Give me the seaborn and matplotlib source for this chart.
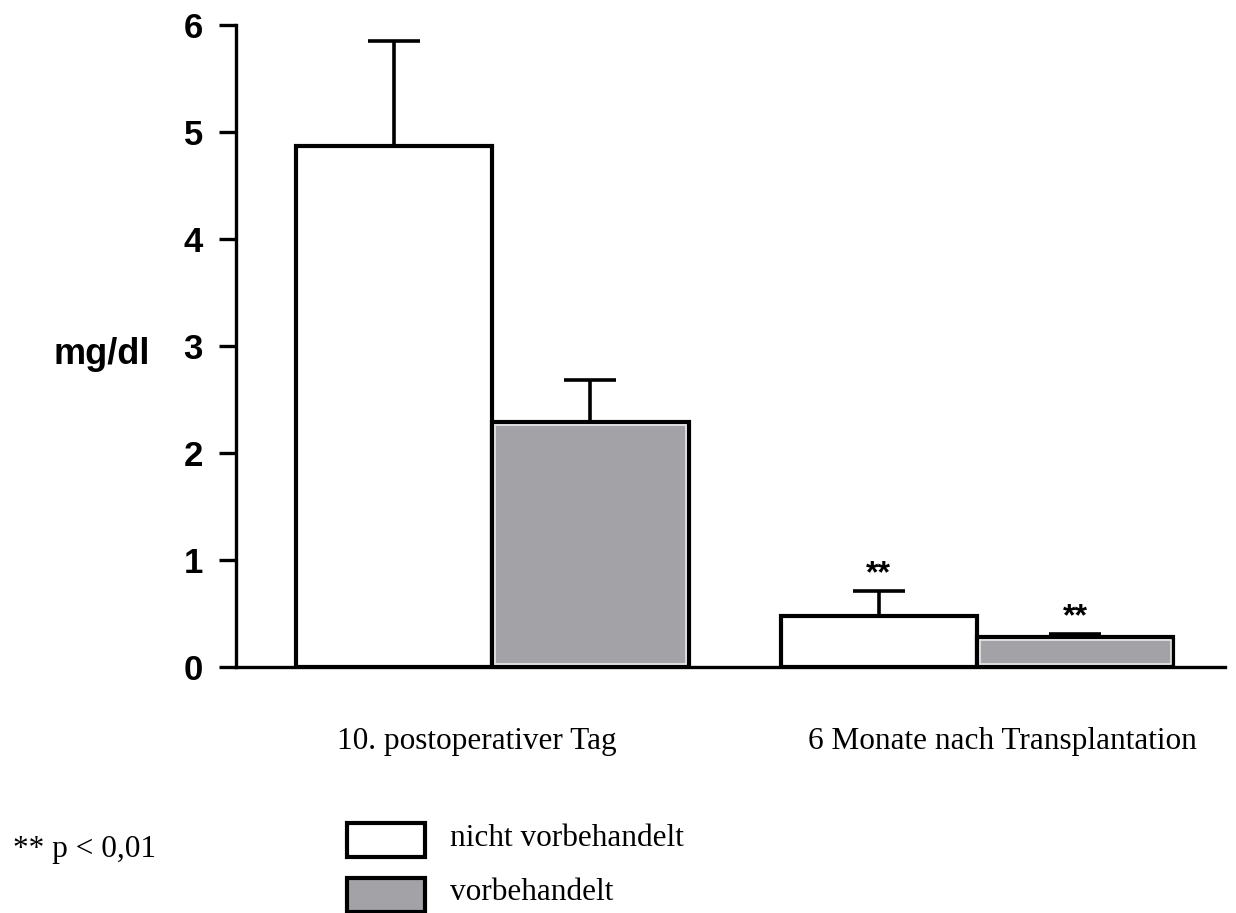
import matplotlib
matplotlib.use("Agg")
import matplotlib.pyplot as plt
import matplotlib.patches as mpatches
import seaborn as sns
import pandas as pd

categories = ["10. postoperativer Tag", "6 Monate nach Transplantation"]
groups = ["nicht vorbehandelt", "vorbehandelt"]
means_nicht = [4.87, 0.48]
means_vor = [2.29, 0.28]
sem_nicht = [0.98, 0.23]
sem_vor = [0.39, 0.03]
stars = ["", "**"]
y_ticks = [0, 1, 2, 3, 4, 5, 6]

df = pd.DataFrame({
    "cat": categories * 2,
    "group": [groups[0]] * 2 + [groups[1]] * 2,
    "value": means_nicht + means_vor,
    "err": sem_nicht + sem_vor,
})

sns.set_theme(style="white")
plt.rcParams["font.family"] = ["Liberation Sans", "DejaVu Sans"]
plt.rcParams["text.color"] = "black"
plt.rcParams["axes.labelcolor"] = "black"
plt.rcParams["ytick.color"] = "black"

fig = plt.figure(figsize=(12.36, 9.13), dpi=100)
ax = fig.add_axes([0.191, 1 - 667 / 913, 0.8, (667 - 25) / 913])

colors = {"nicht vorbehandelt": "#ffffff", "vorbehandelt": "#a3a2a6"}
sns.barplot(data=df, x="cat", y="value", hue="group", hue_order=groups,
            order=categories, palette=colors, width=0.81, gap=0,
            edgecolor="black", linewidth=3, errorbar=None, legend=False,
            saturation=1, ax=ax)

bars = ax.patches
n = len(categories)
for gi, g in enumerate(groups):
    for ci, c in enumerate(categories):
        p = bars[gi * n + ci]
        xc = p.get_x() + p.get_width() / 2
        row = df[(df.cat == c) & (df.group == g)].iloc[0]
        ax.errorbar(xc, row.value, yerr=[[0], [row.err]], fmt="none",
                    ecolor="black", elinewidth=2.6, capsize=19, capthick=2.6,
                    zorder=1)
        if g == "vorbehandelt":
            inner = mpatches.Rectangle((p.get_x() + 0.006, 0.025),
                                       p.get_width() - 0.012, row.value - 0.05,
                                       fill=False, edgecolor="#e8e8e8",
                                       linewidth=1.2, zorder=3)
            ax.add_patch(inner)
        if stars[ci]:
            ax.text(xc, row.value + row.err + 0.08, stars[ci], ha="center",
                    va="baseline", fontsize=23, fontweight="bold")

ax.set_xlim(-0.528, 1.511)
ax.set_ylim(0, 6)
ax.set_yticks(y_ticks)
ax.set_yticklabels([str(t) for t in y_ticks], fontsize=25, fontweight="bold")
ax.set_xticks([])
ax.set_xlabel("")
ax.set_ylabel("")
for s in ["top", "right"]:
    ax.spines[s].set_visible(False)
for s in ["left", "bottom"]:
    ax.spines[s].set_linewidth(2.4)
    ax.spines[s].set_color("black")
ax.tick_params(axis="y", direction="out", length=12, width=2.4, left=True,
               pad=12, colors="black")

fig.text(102 / 1236, 1 - 355 / 913, "mg/dl", ha="center", va="center",
         fontsize=26, fontweight="bold")

serif = ["Liberation Serif", "DejaVu Serif"]
fig.text(337 / 1236, 1 - 741 / 913, categories[0], ha="left", va="center",
         fontsize=22.5, family=serif)
fig.text(808 / 1236, 1 - 741 / 913, categories[1], ha="left", va="center",
         fontsize=22.5, family=serif)

fig.text(13 / 1236, 1 - 849 / 913, "** p < 0,01", ha="left", va="center",
         fontsize=22.5, family=serif)
box_w, box_h = 78 / 1236, 34 / 913
for i, g in enumerate(groups):
    ytop = 823 + 55 * i
    r = mpatches.Rectangle((347 / 1236, 1 - (ytop + 34) / 913), box_w, box_h,
                           transform=fig.transFigure, facecolor=colors[g],
                           edgecolor="black", linewidth=3)
    fig.patches.append(r)
    fig.text(450 / 1236, 1 - (838 + 54 * i) / 913, g, ha="left", va="center",
             fontsize=22.5, family=serif)

fig.savefig("out.png", dpi=100)
